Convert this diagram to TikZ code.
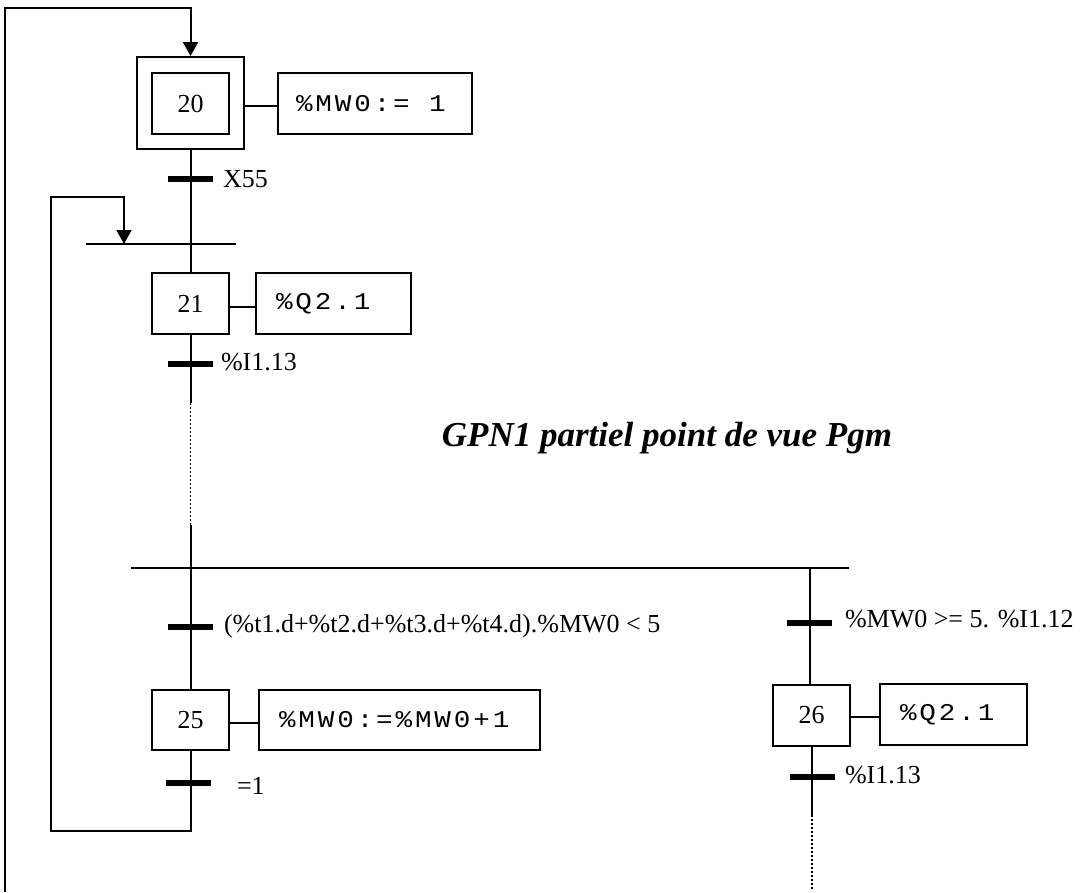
\documentclass[tikz,border=0pt]{standalone}
\usepackage{fontspec}
\setmainfont{Liberation Serif}
\newfontfamily\actfont[FakeStretch=1.15,LetterSpace=12]{Liberation Mono}
\usetikzlibrary{arrows.meta}
\begin{document}
\begin{tikzpicture}[x=1pt,y=-1pt, line width=2pt,
  lbl/.style={font=\fontsize{26}{30}\selectfont, inner sep=0pt, anchor=base west},
  stepbox/.style={draw, minimum width=77pt, minimum height=61pt, inner sep=0pt, font=\fontsize{26}{30}\selectfont},
  actbox/.style={draw, minimum height=61pt, inner xsep=20pt, inner ysep=0pt, align=left, font=\actfont\fontsize{24}{28}\selectfont},
  bar/.style={fill=black, draw=none, minimum width=45pt, minimum height=6pt, inner sep=0pt},
  arr/.style={-{Triangle[length=14pt,width=15pt]}},
  dots/.style={line width=1.6pt, dash pattern=on 2pt off 2pt}
]
\useasboundingbox (0,0) rectangle (1082,892);

% title
\node[font=\fontsize{35}{40}\selectfont\bfseries\itshape, anchor=base, inner sep=0pt] (title) at (667,446) {GPN1 partiel point de vue Pgm};

% step 20 (initial)
\node[draw, minimum width=107pt, minimum height=92pt, inner sep=0pt] (s20) at (190.5,103) {};
\node[stepbox] (s20i) at (190.5,103.5) {20};
\node[actbox, inner xsep=18pt, text width=158pt] (a20) at (375,103.5) {\%MW0:=\kern19.4pt 1};
\draw (s20.east |- 0,106) -- (a20.west |- 0,106);

% transition X55
\node[bar] (t1) at (190.5,179) {};
\node[lbl] (t1l) at (222,187) {X55};

% convergence
\coordinate (cvL) at (86,244);
\coordinate (cvR) at (236,244);
\coordinate (cvM) at (190.5,244);
\draw (cvL) -- (cvR);
\draw (s20.south) -- (cvM);

% step 21
\node[stepbox] (s21) at (190.5,303.5) {21};
\node[actbox, text width=115pt] (a21) at (333.5,303.5) {\%Q2.1};
\draw (s21.east |- 0,307) -- (a21.west |- 0,307);
\draw (cvM) -- (s21.north);

% transition %I1.13
\node[bar] (t2) at (190.5,364) {};
\node[lbl] (t2l) at (220,370) {\%I1.13};
\coordinate (d1a) at (190.5,403);
\coordinate (d1b) at (190.5,525);
\draw (s21.south) -- (d1a);
\draw[dots] (d1a) -- (d1b);

% divergence
\coordinate (dvL) at (131,568);
\coordinate (dvR) at (849,568);
\coordinate (dvM) at (190.5,568);
\coordinate (dvN) at (809.5,568);
\draw (dvL) -- (dvR);
\draw (d1b) -- (dvM);

% left branch: transition, step 25
\node[bar] (t3) at (190.5,627) {};
\node[lbl] (t3l) at (223,632) {(\%t1.d+\%t2.d+\%t3.d+\%t4.d).\%MW0 < 5};
\node[stepbox, minimum height=60pt] (s25) at (190.5,720) {25};
\node[actbox, minimum height=60pt, text width=241pt] (a25) at (399.5,720) {\%MW0:=\%MW0+1};
\draw (s25.east |- 0,723) -- (a25.west |- 0,723);
\draw (dvM) -- (s25.north);

% transition =1 and loop back
\node[bar] (t4) at (188,783) {};
\node[lbl] (t4l) at (236,794) {=1};
\coordinate (lpD) at (190.5,831);
\coordinate (lpA) at (51,831);
\coordinate (lpB) at (51,197);
\coordinate (lpC) at (124,197);
\coordinate (lpT) at (124,244);
\draw[arr] (s25.south) -- (lpD) -- (lpA) -- (lpB) -- (lpC) -- (lpT);

% right branch
\node[bar] (t5) at (809.5,623) {};
\node[lbl] (t5l) at (844,627) {\%MW0 >= 5. \%I1.12};
\node[stepbox] (s26) at (811.5,715.5) {26};
\node[actbox, text width=107pt] (a26) at (953.5,714.5) {\%Q2.1};
\draw (s26.east |- 0,717) -- (a26.west |- 0,717);
\draw (dvN) -- (dvN |- s26.north);
\node[bar] (t6) at (812,777) {};
\node[lbl] (t6l) at (844,783) {\%I1.13};
\coordinate (d2a) at (812,815);
\coordinate (d2b) at (812,890);
\draw (s26.south -| d2a) -- (d2a);
\draw[dots] (d2a) -- (d2b);

% outer loop to initial step
\coordinate (oA) at (5,892);
\coordinate (oB) at (5,8);
\coordinate (oC) at (190.5,8);
\draw[arr] (oA) -- (oB) -- (oC) -- (s20.north);
\end{tikzpicture}
\end{document}
